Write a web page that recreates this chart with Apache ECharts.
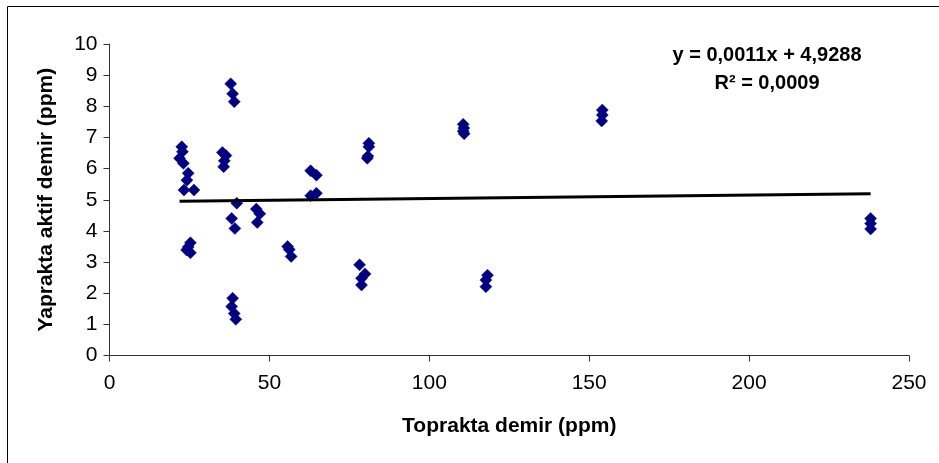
<!DOCTYPE html>
<html>
<head>
<meta charset="utf-8">
<style>
  html, body { margin: 0; padding: 0; background: #fff; }
  #chart { width: 939px; height: 463px; }
</style>
<script src="https://cdn.jsdelivr.net/npm/echarts@6/dist/echarts.min.js"></script>
</head>
<body>
<div id="chart"></div>
<script>
// Soil iron (x) vs. active leaf iron (y), ppm
const soilFe = [
  22.6, 22.8, 21.9, 23.1,
  24.6, 24.2, 23.3, 26.4,
  25.3, 24.6, 24.1, 25.3,
  37.9, 38.5, 39.0,
  35.3, 36.4, 35.9, 35.7,
  39.8, 38.2, 39.2,
  38.5, 38.2, 39.0, 39.5,
  45.9, 47.0, 46.2,
  55.7, 56.2, 56.8,
  62.9, 64.7, 62.9, 64.7,
  81.1, 81.1, 80.6, 80.8,
  78.2, 79.9, 78.8, 78.8,
  110.6, 110.8, 110.6, 110.9,
  118.2, 117.7, 117.7,
  154.1, 154.1, 153.9,
  238.0, 238.0, 238.0
];
const leafFe = [
  6.70, 6.54, 6.33, 6.17,
  5.85, 5.63, 5.31, 5.31,
  3.62, 3.48, 3.39, 3.30,
  8.72, 8.40, 8.15,
  6.52, 6.42, 6.25, 6.06,
  4.89, 4.40, 4.08,
  1.84, 1.57, 1.35, 1.16,
  4.70, 4.55, 4.27,
  3.50, 3.40, 3.18,
  5.93, 5.79, 5.13, 5.21,
  6.81, 6.70, 6.33, 6.40,
  2.91, 2.62, 2.48, 2.26,
  7.42, 7.30, 7.20, 7.12,
  2.58, 2.42, 2.21,
  7.88, 7.72, 7.53,
  4.40, 4.24, 4.06
];

// Linear trend: y = slope * x + intercept
const trendSlope = 0.0011;
const trendIntercept = 4.9288;
const trendR2 = '0,0009';

const xTitle = 'Toprakta demir (ppm)';
const yTitle = 'Yaprakta aktif demir (ppm)';

const points = soilFe.map((x, i) => [x, leafFe[i]]);
const xMin = Math.min(...soilFe);
const xMax = Math.max(...soilFe);
const trend = [xMin, xMax].map(x => [x, trendSlope * x + trendIntercept]);

const fmt = v => v.toFixed(4).replace('.', ',');
const eqText = 'y = ' + fmt(trendSlope) + 'x + ' + fmt(trendIntercept);

const FONT = '"Liberation Sans", Arial, sans-serif';

const chart = echarts.init(document.getElementById('chart'), null, { renderer: 'canvas' });
chart.setOption({
  backgroundColor: '#ffffff',
  animation: false,
  grid: { left: 109.5, right: 30, top: 44, bottom: 107.5, containLabel: false },
  xAxis: {
    type: 'value', min: 0, max: 250, interval: 50,
    splitLine: { show: false },
    axisLine: { show: true, onZero: false, lineStyle: { color: '#333', width: 1 } },
    axisTick: { show: true, inside: false, length: 6, lineStyle: { color: '#333' } },
    axisLabel: { color: '#000', fontFamily: FONT, fontSize: 21, margin: 17 },
    name: xTitle, nameLocation: 'middle', nameGap: 60,
    nameTextStyle: { color: '#000', fontFamily: FONT, fontSize: 21, fontWeight: 'bold' }
  },
  yAxis: {
    type: 'value', min: 0, max: 10, interval: 1,
    splitLine: { show: false },
    axisLine: { show: true, onZero: false, lineStyle: { color: '#333', width: 1 } },
    axisTick: { show: true, inside: false, length: 6, lineStyle: { color: '#333' } },
    axisLabel: { color: '#000', fontFamily: FONT, fontSize: 21, margin: 12 },
    name: yTitle, nameLocation: 'middle', nameGap: 53, nameRotate: 90,
    nameTextStyle: { color: '#000', fontFamily: FONT, fontSize: 21, fontWeight: 'bold' }
  },
  series: [
    {
      type: 'scatter',
      data: points,
      symbol: 'diamond',
      symbolSize: 12,
      itemStyle: { color: '#000080', borderColor: '#000080', borderWidth: 0.5, opacity: 1 },
      z: 2
    },
    {
      type: 'line',
      data: trend,
      showSymbol: false,
      symbol: 'none',
      lineStyle: { color: '#000', width: 3 },
      z: 3
    }
  ],
  graphic: [
    {
      type: 'rect',
      shape: { x: 7.5, y: 6.5, width: 1000, height: 1000 },
      style: { fill: 'none', stroke: '#000', lineWidth: 1 },
      silent: true
    },
    {
      type: 'text', x: 767, y: 55,
      style: {
        text: eqText, align: 'center', verticalAlign: 'middle',
        font: 'bold 20px ' + FONT, fill: '#000'
      }
    },
    {
      type: 'text', x: 767, y: 83,
      style: {
        text: 'R² = ' + trendR2, align: 'center', verticalAlign: 'middle',
        font: 'bold 20px ' + FONT, fill: '#000'
      }
    }
  ]
});
</script>
</body>
</html>
